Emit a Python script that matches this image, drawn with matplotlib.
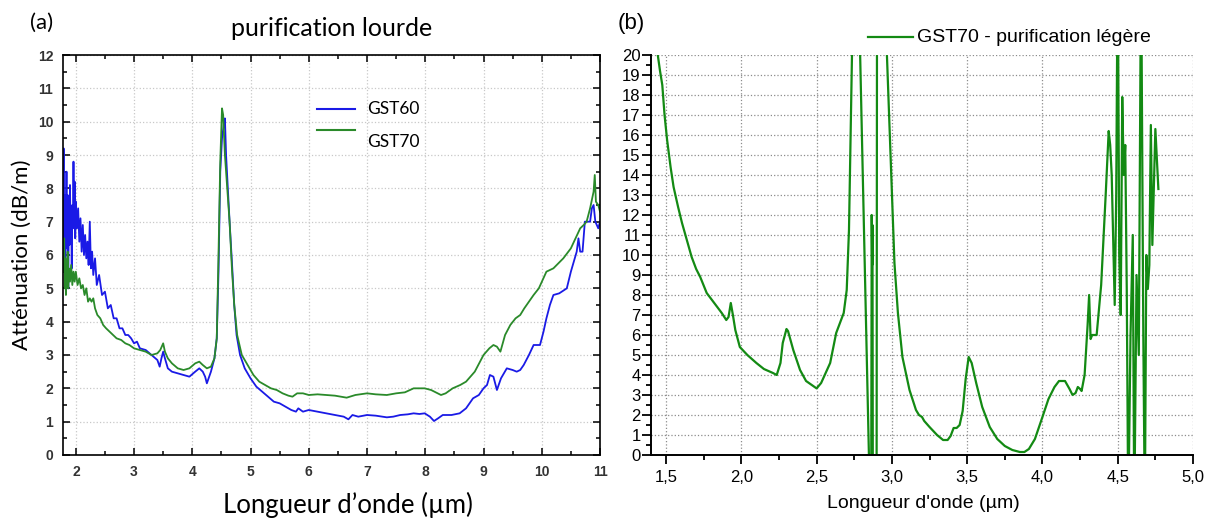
import matplotlib
matplotlib.use("Agg")
import matplotlib.pyplot as plt
from matplotlib.ticker import MultipleLocator, FuncFormatter

# ---- (a) purification lourde ----
gst60_x = [1.78, 1.79, 1.80, 1.81, 1.82, 1.83, 1.84, 1.85, 1.86, 1.87, 1.88, 1.89, 1.90, 1.91,
           1.92, 1.93, 1.94, 1.95, 1.96, 1.97, 1.98, 1.99, 2.00, 2.02, 2.04, 2.06, 2.08, 2.10,
           2.12, 2.14, 2.16, 2.18, 2.20, 2.22, 2.24, 2.26, 2.28, 2.30, 2.33, 2.36, 2.40, 2.45,
           2.50, 2.55, 2.60, 2.65, 2.70, 2.75, 2.80, 2.85, 2.90, 2.95, 3.00, 3.05, 3.10, 3.20,
           3.30, 3.40, 3.44, 3.47, 3.50, 3.53, 3.58, 3.65, 3.75, 3.85, 3.95, 4.05, 4.12, 4.18,
           4.22, 4.25, 4.28, 4.32, 4.38, 4.42, 4.45, 4.48, 4.51, 4.54, 4.56, 4.58, 4.61, 4.64,
           4.68, 4.72, 4.76, 4.82, 4.90, 5.00, 5.10, 5.20, 5.30, 5.40, 5.50, 5.60, 5.70, 5.78,
           5.82, 5.90, 6.00, 6.15, 6.30, 6.45, 6.60, 6.68, 6.75, 6.85, 7.00, 7.15, 7.34, 7.45,
           7.57, 7.70, 7.80, 7.90, 7.99, 8.08, 8.15, 8.22, 8.30, 8.45, 8.59, 8.70, 8.82, 8.92,
           9.00, 9.06, 9.11, 9.17, 9.23, 9.30, 9.40, 9.50, 9.57, 9.63, 9.69, 9.78, 9.86, 9.97,
           10.03, 10.08, 10.14, 10.20, 10.30, 10.43, 10.50, 10.60, 10.63, 10.66, 10.70, 10.74,
           10.80, 10.83, 10.86, 10.89, 10.92, 10.97, 11.0]
gst60_y = [6.6, 9.2, 6.0, 7.8, 5.2, 7.0, 8.5, 6.2, 7.8, 5.0, 7.2, 6.3, 8.1, 6.6,
           7.4, 5.6, 7.5, 6.8, 8.8, 6.9, 8.2, 6.5, 7.6, 6.8, 7.4, 6.4, 7.1, 6.1,
           6.9, 6.0, 6.6, 5.9, 6.4, 5.7, 7.0, 5.6, 6.1, 5.4, 5.9, 5.1, 5.4, 4.8,
           4.9, 4.4, 4.5, 4.1, 4.1, 3.8, 3.8, 3.6, 3.6, 3.5, 3.35, 3.4, 3.2, 3.15,
           3.0, 2.85, 2.65, 2.9, 3.1, 2.9, 2.6, 2.5, 2.45, 2.4, 2.35, 2.5, 2.6, 2.5,
           2.35, 2.15, 2.3, 2.5, 2.9, 3.5, 5.5, 8.5, 9.5, 9.9, 10.1, 9.0, 8.0, 7.0,
           5.8, 4.5, 3.6, 3.0, 2.6, 2.3, 2.05, 1.9, 1.75, 1.6, 1.55, 1.45, 1.35, 1.3,
           1.4, 1.3, 1.35, 1.3, 1.25, 1.2, 1.15, 1.07, 1.2, 1.15, 1.2, 1.18, 1.13, 1.15,
           1.2, 1.22, 1.25, 1.23, 1.25, 1.15, 1.02, 1.1, 1.2, 1.2, 1.25, 1.4, 1.7, 1.8,
           2.0, 2.1, 2.4, 2.35, 1.95, 2.3, 2.6, 2.55, 2.5, 2.55, 2.7, 3.0, 3.3, 3.3,
           3.7, 4.1, 4.5, 4.8, 4.85, 5.0, 5.5, 6.1, 6.5, 6.1, 6.1, 7.0,
           7.0, 7.0, 7.4, 7.5, 7.0, 6.8, 7.0]

gst70_x = [1.78, 1.79, 1.80, 1.81, 1.82, 1.83, 1.84, 1.85, 1.86, 1.87, 1.88, 1.90, 1.92, 1.94,
           1.96, 1.98, 2.00, 2.03, 2.06, 2.09, 2.12, 2.15, 2.18, 2.21, 2.24, 2.27, 2.30, 2.33,
           2.37, 2.42, 2.47, 2.52, 2.58, 2.64, 2.70, 2.78, 2.85, 2.92, 3.00, 3.10, 3.20, 3.30,
           3.40, 3.45, 3.50, 3.53, 3.58, 3.65, 3.75, 3.85, 3.95, 4.05, 4.12, 4.18, 4.25, 4.32,
           4.38, 4.42, 4.45, 4.48, 4.51, 4.53, 4.56, 4.60, 4.64, 4.68, 4.72, 4.77, 4.85, 4.95,
           5.05, 5.15, 5.25, 5.35, 5.45, 5.55, 5.65, 5.72, 5.80, 5.90, 6.00, 6.15, 6.30, 6.45,
           6.65, 6.80, 7.00, 7.15, 7.34, 7.50, 7.65, 7.80, 7.99, 8.10, 8.27, 8.35, 8.47, 8.60,
           8.70, 8.85, 9.00, 9.10, 9.17, 9.23, 9.29, 9.37, 9.46, 9.55, 9.63, 9.70, 9.86, 9.95,
           10.08, 10.20, 10.37, 10.50, 10.66, 10.72, 10.77, 10.83, 10.89, 10.91, 10.93, 10.97, 11.0]
gst70_y = [6.3, 5.5, 6.5, 5.0, 5.9, 4.8, 5.7, 5.2, 6.1, 5.0, 5.6, 5.2, 5.7, 5.1,
           5.5, 5.2, 5.5, 5.1, 5.3, 5.0, 5.1, 4.8, 5.0, 4.6, 4.7, 4.6, 4.7, 4.4,
           4.2, 4.1, 3.9, 3.8, 3.7, 3.6, 3.5, 3.45, 3.35, 3.3, 3.2, 3.15, 3.1, 3.0,
           3.05, 3.15, 3.35, 3.1, 2.9, 2.75, 2.6, 2.55, 2.6, 2.75, 2.8, 2.7, 2.6, 2.65,
           2.9, 3.5, 6.0, 8.8, 10.4, 10.2, 9.0, 8.0, 7.0, 5.6, 4.5, 3.6, 3.0, 2.7,
           2.4, 2.2, 2.1, 2.0, 1.95, 1.85, 1.78, 1.75, 1.85, 1.85, 1.8, 1.82, 1.8, 1.78,
           1.72, 1.8, 1.85, 1.82, 1.8, 1.85, 1.88, 2.0, 2.0, 1.95, 1.8, 1.85, 2.0, 2.1,
           2.2, 2.5, 3.0, 3.2, 3.3, 3.25, 3.1, 3.6, 3.9, 4.1, 4.2, 4.4, 4.8, 5.0,
           5.5, 5.6, 5.9, 6.2, 6.8, 6.9, 7.0, 7.4, 7.9, 8.4, 7.6, 7.5, 7.3]

# ---- (b) GST70 - purification legere ----
leg_x = [1.445, 1.46, 1.475, 1.49, 1.507, 1.53, 1.55, 1.58, 1.606, 1.64, 1.67, 1.70, 1.727,
         1.77, 1.81, 1.84, 1.87, 1.90, 1.915, 1.93, 1.944, 1.96, 1.99, 2.04, 2.10, 2.15, 2.21,
         2.235, 2.26, 2.275, 2.30, 2.31, 2.345, 2.39, 2.43, 2.50, 2.53, 2.59, 2.63, 2.68,
         2.70, 2.715, 2.73, 2.735, 2.76, 2.862, 2.866, 2.869, 2.871, 2.874, 2.898, 2.902,
         2.962, 2.967, 2.985, 3.00, 3.017, 3.04, 3.07, 3.117, 3.16, 3.18, 3.20, 3.215, 3.25,
         3.30, 3.34, 3.37, 3.39, 3.41, 3.43, 3.45, 3.47, 3.49, 3.51, 3.53, 3.56, 3.60, 3.65,
         3.70, 3.75, 3.80, 3.85, 3.88, 3.91, 3.95, 4.00, 4.04, 4.08, 4.11, 4.15, 4.18, 4.20,
         4.22, 4.235, 4.25, 4.26, 4.28, 4.30, 4.31, 4.32, 4.33, 4.36, 4.39, 4.42, 4.44, 4.45,
         4.46, 4.48, 4.49, 4.50, 4.51, 4.52, 4.53, 4.54, 4.55, 4.56, 4.57, 4.585, 4.60, 4.61,
         4.625, 4.64, 4.655, 4.67, 4.68, 4.69, 4.70, 4.71, 4.72, 4.73, 4.75, 4.77]
leg_y = [20.0, 19.2, 18.5, 17.0, 15.75, 14.4, 13.4, 12.4, 11.6, 10.7, 9.9, 9.3, 8.9,
         8.1, 7.7, 7.4, 7.1, 6.75, 6.9, 7.6, 7.0, 6.25, 5.4, 5.0, 4.6, 4.3, 4.1,
         4.0, 4.6, 5.6, 6.3, 6.2, 5.25, 4.25, 3.7, 3.33, 3.6, 4.6, 6.1, 7.1,
         8.25, 11.25, 18.0, 20.0, 30.0, -5.0, 12.0, 9.5, 11.5, -5.0, -5.0, 30.0,
         30.0, 20.0, 16.2, 12.9, 9.6, 7.1, 4.9, 3.25, 2.25, 2.0, 1.9, 1.7, 1.4,
         1.0, 0.75, 0.75, 0.95, 1.35, 1.35, 1.5, 2.2, 3.8, 4.9, 4.6, 3.6, 2.4, 1.4,
         0.8, 0.45, 0.25, 0.15, 0.15, 0.3, 0.8, 1.9, 2.8, 3.4, 3.7, 3.7, 3.3, 3.0,
         3.1, 3.4, 3.3, 3.2, 4.0, 6.5, 8.0, 5.8, 6.0, 6.0, 8.5, 13.0, 16.2, 15.5,
         14.0, 7.5, 13.0, 25.0, 10.0, 7.0, 17.9, 14.0, 15.5, 8.3, -3.0, 6.0, 11.0, -3.0,
         9.0, 5.0, 25.0, 6.0, -3.0, 10.0, 8.3, 9.5, 16.5, 10.5, 16.3, 13.3]

fig = plt.figure(figsize=(12.19, 5.18), dpi=100)
calib = ["Lato", "DejaVu Sans"]
arial = ["Liberation Sans", "DejaVu Sans"]

# left panel
ax1 = fig.add_axes([63 / 1219, 63 / 518, 537 / 1219, 400 / 518])
ax1.plot(gst60_x, gst60_y, color="#1a1ae6", lw=1.3)
ax1.plot(gst70_x, gst70_y, color="#2a8a2a", lw=1.3)
ax1.set_xlim(1.78, 11.0)
ax1.set_ylim(0, 12)
ax1.xaxis.set_major_locator(MultipleLocator(1))
ax1.xaxis.set_minor_locator(MultipleLocator(0.5))
ax1.yaxis.set_major_locator(MultipleLocator(1))
ax1.yaxis.set_minor_locator(MultipleLocator(0.5))
ax1.tick_params(which="both", direction="in", top=True, right=True, width=1.1)
ax1.tick_params(which="major", length=5)
ax1.tick_params(which="minor", length=3)
ax1.tick_params(labelsize=10, labelcolor="#333333", pad=7)
for lab in ax1.get_xticklabels() + ax1.get_yticklabels():
    lab.set_family(arial)
    lab.set_fontweight("bold")
ax1.grid(True, which="major", ls=":", color="#c8c8c8", lw=0.9)
for s in ax1.spines.values():
    s.set_linewidth(1.2)
ax1.set_ylabel("Atténuation (dB/m)", family=calib, fontsize=16, labelpad=4)
ax1.set_xlabel("Longueur d’onde (µm)", family=calib, fontsize=18.5)
ax1.xaxis.set_label_coords(285 / 537, -37 / 400)
ax1.set_title("purification lourde", family=calib, fontsize=18, pad=14)

# legend (a), drawn by hand
ax1.plot([0.473, 0.544], [0.865, 0.865], color="#1a1ae6", lw=1.5, transform=ax1.transAxes)
ax1.plot([0.473, 0.544], [0.8125, 0.8125], color="#2a8a2a", lw=1.5, transform=ax1.transAxes)
ax1.text(0.566, 0.865, "GST60", transform=ax1.transAxes, va="center", family=calib, fontsize=12.5)
ax1.text(0.566, 0.7825, "GST70", transform=ax1.transAxes, va="center", family=calib, fontsize=12.5)

fig.text(30 / 1219, 1 - 23 / 518, "(a)", family=calib, fontsize=16, va="center")

# right panel
ax2 = fig.add_axes([651 / 1219, 63 / 518, 542 / 1219, 400 / 518])
ax2.plot(leg_x, leg_y, color="#138a13", lw=1.6)
ax2.set_xlim(1.4, 5.0)
ax2.set_ylim(0, 20)
ax2.xaxis.set_major_locator(MultipleLocator(0.5))
ax2.xaxis.set_minor_locator(MultipleLocator(0.25))
ax2.yaxis.set_major_locator(MultipleLocator(1))
ax2.yaxis.set_minor_locator(MultipleLocator(0.5))
ax2.xaxis.set_major_formatter(FuncFormatter(lambda v, p: f"{v:.1f}".replace(".", ",")))
ax2.tick_params(which="both", direction="out", width=1.3)
ax2.tick_params(which="major", length=6.5)
ax2.tick_params(which="minor", length=3.5)
ax2.tick_params(axis="y", labelsize=12, pad=1)
ax2.tick_params(axis="x", labelsize=12, pad=4)
for lab in ax2.get_xticklabels() + ax2.get_yticklabels():
    lab.set_family(arial)
ax2.spines["top"].set_visible(False)
ax2.spines["right"].set_visible(False)
ax2.spines["left"].set_linewidth(1.4)
ax2.spines["bottom"].set_linewidth(1.4)
ax2.grid(True, which="major", ls=":", color="#8c8c8c", lw=0.9)
ax2.set_xlabel("Longueur d'onde (µm)", family=arial, fontsize=14)
ax2.xaxis.set_label_coords(272 / 542, -40 / 400)

fig.lines.append(plt.Line2D([868 / 1219, 913 / 1219], [1 - 37 / 518, 1 - 37 / 518],
                            color="#138a13", lw=1.6, transform=fig.transFigure))
fig.text(917 / 1219, 1 - 37 / 518, "GST70 - purification légère", family=arial,
         fontsize=14, va="center")
fig.text(618 / 1219, 1 - 23 / 518, "(b)", family=arial, fontsize=16, va="center")

fig.savefig("out.png", dpi=100)
plt.close(fig)
